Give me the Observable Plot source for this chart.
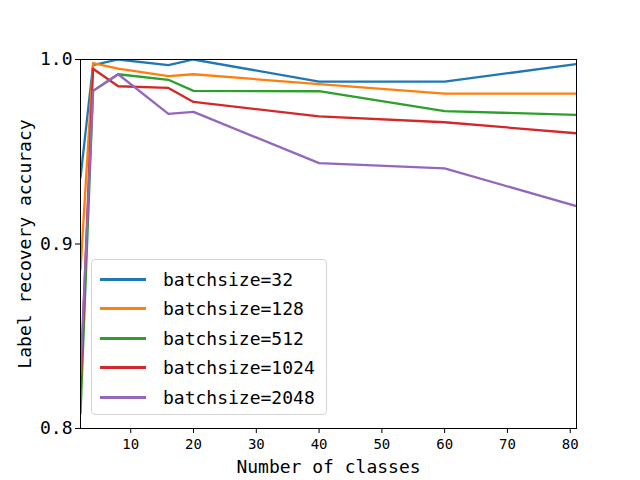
<!DOCTYPE html>
<html>
<head>
<meta charset="utf-8">
<script src="https://cdn.jsdelivr.net/npm/d3@7"></script>
<script src="https://cdn.jsdelivr.net/npm/@observablehq/plot@0.6"></script>
<style>
  html, body { margin: 0; padding: 0; background: #fff; }
  #wrap { position: relative; width: 640px; height: 480px; }
  #legend {
    position: absolute; left: 91px; top: 259px; width: 236px; height: 156px;
    box-sizing: border-box; border: 1px solid #d4d4d4; border-radius: 4px;
    background: rgba(255,255,255,0.8);
    font-family: "DejaVu Sans Mono", monospace; font-size: 18px; color: #000;
  }
  .row { position: absolute; left: 0; height: 30px; display: flex; align-items: center; }
  .sw { width: 46px; height: 3px; margin-left: 8px; margin-right: 17px; }
</style>
</head>
<body>
<div id="wrap"></div>
<script>
const classes = [2, 4, 8, 16, 20, 40, 60, 81];
const bs32   = [0.936, 0.997, 1.000, 0.997, 1.000, 0.988, 0.988, 0.9975];
const bs128  = [0.886, 0.998, 0.995, 0.991, 0.992, 0.9866, 0.9815, 0.9815];
const bs512  = [0.808, 0.983, 0.992, 0.989, 0.983, 0.9828, 0.972, 0.970];
const bs1024 = [0.821, 0.995, 0.9855, 0.9846, 0.977, 0.9692, 0.966, 0.960];
const bs2048 = [0.830, 0.983, 0.992, 0.9705, 0.9716, 0.9438, 0.941, 0.9205];
const seriesNames = ["batchsize=32", "batchsize=128", "batchsize=512", "batchsize=1024", "batchsize=2048"];
const seriesValues = [bs32, bs128, bs512, bs1024, bs2048];
const colors = ["#1f77b4", "#ff7f0e", "#2ca02c", "#d62728", "#9467bd"];
const xTicks = [10, 20, 30, 40, 50, 60, 70, 80];
const yTicks = [0.8, 0.9, 1.0];

const rows = [];
seriesNames.forEach((name, i) => {
  classes.forEach((c, j) => rows.push({series: name, x: c, y: seriesValues[i][j]}));
});

const font = "DejaVu Sans Mono, monospace";
const chart = Plot.plot({
  width: 640,
  height: 480,
  marginLeft: 80,
  marginRight: 64,
  marginTop: 59,
  marginBottom: 52,
  style: {fontFamily: font, background: "#fff", color: "#000", overflow: "visible"},
  x: {domain: [2, 81], axis: null},
  y: {domain: [0.8, 1.0], axis: null},
  color: {domain: seriesNames, range: colors},
  marks: [
    Plot.line(rows, {x: "x", y: "y", z: "series", stroke: "series", strokeWidth: 2.3, clip: true}),
    Plot.frame({stroke: "#000", strokeWidth: 1}),
    Plot.axisX({ticks: xTicks, tickSize: 5, tickPadding: 6, fontSize: 14, label: null, stroke: "#000"}),
    Plot.axisY({ticks: yTicks, tickSize: 5, tickPadding: 3, fontSize: 18, tickFormat: d3.format(".1f"), label: null, stroke: "#000"}),
    Plot.text(["Number of classes"], {frameAnchor: "bottom", dy: 44, fontSize: 18, fill: "#000"}),
    Plot.text(["Label recovery accuracy"], {frameAnchor: "left", dx: -55, rotate: -90, textAnchor: "middle", fontSize: 18, fill: "#000"})
  ]
});
const wrap = document.getElementById("wrap");
wrap.appendChild(chart);

const legend = document.createElement("div");
legend.id = "legend";
seriesNames.forEach((name, i) => {
  const r = document.createElement("div");
  r.className = "row";
  r.style.top = (4 + i * 29.6) + "px";
  const sw = document.createElement("div");
  sw.className = "sw";
  sw.style.background = colors[i];
  const t = document.createElement("span");
  t.textContent = name;
  r.appendChild(sw);
  r.appendChild(t);
  legend.appendChild(r);
});
wrap.appendChild(legend);
</script>
</body>
</html>
